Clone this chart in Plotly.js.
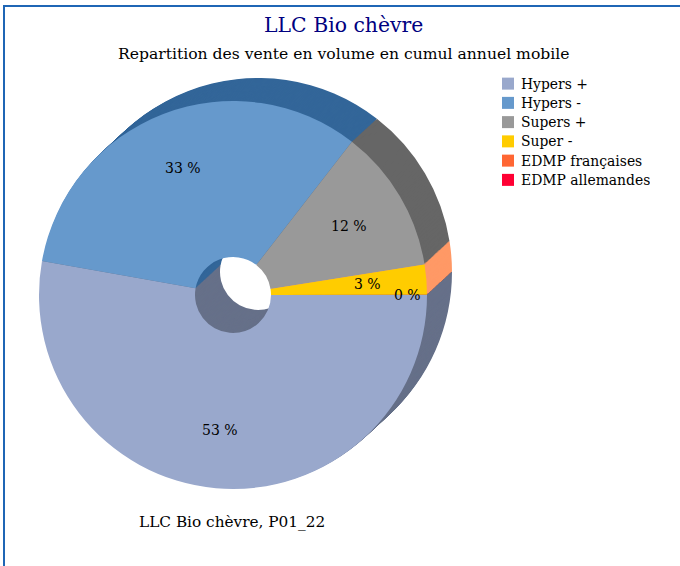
<!DOCTYPE html>
<html><head><meta charset="utf-8">
<script src="https://cdn.plot.ly/plotly-3.0.1.min.js"></script>
<style>html,body{margin:0;padding:0;background:#fff}#c{width:680px;height:566px}</style>
</head><body><div id="c"></div>
<script>
const categories = ['Hypers +','Hypers -','Supers +','Super -','EDMP françaises','EDMP allemandes'];
const shares = [52.8,32.7,11.98,2.5,0.02,0];
const faceColors = ['#99a8cc','#6699cc','#999999','#ffcc00','#ff6633','#ff0033'];
const depthColors = ['#667089','#336699','#666666','#ff9966','#cc5533','#cc0033'];
const titleText = 'LLC Bio chèvre';
const subtitleText = 'Repartition des vente en volume en cumul annuel mobile';
const captionText = 'LLC Bio chèvre, P01_22';
const shownLabels = [0,1,2,3,4];

const W=680,H=566,FONT='"DejaVu Serif", serif';
const face={cx:233,cy:295,r:194};
const DX=25,DY=-23,STEPS=25;
const dom=p=>({x:[(p.cx-p.r)/W,(p.cx+p.r)/W],y:[1-(p.cy+p.r)/H,1-(p.cy-p.r)/H]});
const pie=(p,colors,legend)=>({type:'pie',labels:categories,values:shares,sort:false,direction:'clockwise',rotation:90,
  hole:38/194,domain:dom(p),marker:{colors,line:{width:0}},textinfo:'none',hoverinfo:'skip',showlegend:legend});

const traces=[];
for(let k=STEPS;k>=1;k--){
  traces.push(pie({cx:face.cx+DX*k/STEPS,cy:face.cy+DY*k/STEPS,r:face.r},depthColors,false));
}
traces.push(pie(face,faceColors,true));

const total=shares.reduce((a,b)=>a+b,0);
let run=0; const mids=shares.map(v=>{const m=run+v/2;run+=v;return m/total*2*Math.PI;});
const labelAnn=shownLabels.map(i=>{
  const rr=i===4?0.905:0.7;
  const x=face.cx-1+face.r*rr*Math.cos(mids[i]), y=face.cy+face.r*rr*Math.sin(mids[i]);
  return {x:x/W,y:1-y/H,xref:'paper',yref:'paper',xanchor:'center',yanchor:'middle',showarrow:false,
    text:Math.round(shares[i])+' %',font:{family:FONT,size:14,color:'#000'}};
});
const textAnn=(t,x,y,size,color)=>({x:x/W,y:1-y/H,xref:'paper',yref:'paper',xanchor:'center',yanchor:'middle',showarrow:false,text:t,font:{family:FONT,size,color}});

Plotly.newPlot('c',traces,{
  width:W,height:H,margin:{l:0,r:0,t:0,b:0},paper_bgcolor:'#fff',font:{family:FONT,color:'#000'},
  showlegend:true,
  legend:{x:488/W,y:1-69/H,xanchor:'left',yanchor:'top',font:{family:FONT,size:12.5,color:'#000'},itemclick:false,itemdoubleclick:false,bgcolor:'rgba(0,0,0,0)'},
  shapes:[
    {type:'line',xref:'paper',yref:'paper',x0:4/W,x1:1,y0:1-6/H,y1:1-6/H,line:{color:'#1f66b5',width:2}},
    {type:'line',xref:'paper',yref:'paper',x0:4/W,x1:4/W,y0:1-5/H,y1:0,line:{color:'#1f66b5',width:2}}
  ],
  annotations:[textAnn(titleText,343.5,25,20.4,'#000080'),textAnn(subtitleText,343,54,15.6,'#000'),textAnn(captionText,231.5,522,15.3,'#000'),...labelAnn]
},{displayModeBar:false,staticPlot:true}).then(()=>{
  document.querySelectorAll('.legendtext').forEach(t=>{
    t.setAttribute('x',+t.getAttribute('x')-7);
    t.style.fontSize='13.9px';
  });
});
</script></body></html>
